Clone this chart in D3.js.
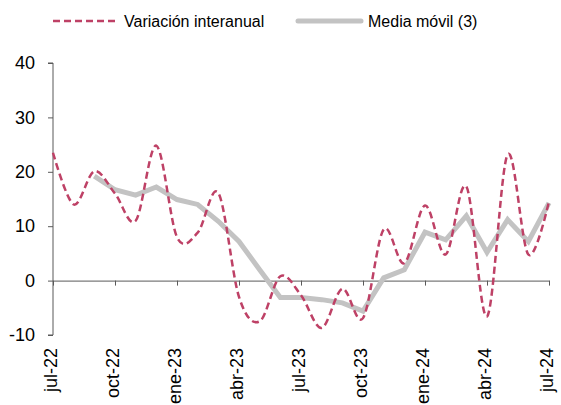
<!DOCTYPE html>
<html>
<head>
<meta charset="utf-8">
<script src="https://cdn.jsdelivr.net/npm/d3@7"></script>
<style>
body { margin: 0; background: #fff; }
text { font-family: "Liberation Sans", Arial, sans-serif; fill: #000; }
</style>
</head>
<body>
<div id="output"></div>
<script>
var w = 561;
var h = 405;

var months = ['jul-22','ago-22','sep-22','oct-22','nov-22','dic-22','ene-23','feb-23','mar-23','abr-23','may-23','jun-23',
	'jul-23','ago-23','sep-23','oct-23','nov-23','dic-23','ene-24','feb-24','mar-24','abr-24','may-24','jun-24','jul-24'];
var tickLabels = ['jul-22','oct-22','ene-23','abr-23','jul-23','oct-23','ene-24','abr-24','jul-24'];
var variacion = [23.5, 14.0, 20.1, 16.0, 11.0, 24.8, 8.0, 8.8, 16.1, -3.0, -7.5, 0.8,
	-2.7, -8.7, -1.5, -6.9, 9.4, 3.2, 13.8, 4.8, 17.3, -6.6, 23.2, 4.8, 14.6];
var media = [null, null, 19.2, 16.7, 15.7, 17.2, 14.9, 14.0, 10.9, 7.2, 2.0, -3.1,
	-3.1, -3.5, -4.1, -5.6, 0.5, 2.0, 8.9, 7.5, 11.9, 5.2, 11.2, 7.2, 14.3];
var yTicks = [-10, 0, 10, 20, 30, 40];

var svg = d3.select('#output').append('svg')
	.attr('width', w)
	.attr('height', h);

var x = d3.scalePoint().domain(months).range([53, 549]);
var y = d3.scaleLinear().domain([-10, 40]).range([335, 63]);

// y axis
var yAxis = svg.append('g')
	.attr('transform', 'translate(53,0)')
	.call(d3.axisLeft(y).tickValues(yTicks).tickSize(5).tickPadding(13).tickFormat(function (d) { return String(d); }));
yAxis.select('.domain').attr('stroke', '#595959').attr('d', 'M-5,' + y(40) + 'H0V' + y(-10) + 'H-5');
yAxis.selectAll('.tick line').attr('stroke', '#595959');
yAxis.selectAll('.tick text').attr('font-size', 18).attr('font-family', '"Liberation Sans", Arial, sans-serif');

// x axis on zero line
var xAxis = svg.append('g')
	.attr('transform', 'translate(0,' + y(0) + ')')
	.call(d3.axisBottom(x).tickValues(tickLabels).tickSize(5).tickSizeOuter(0).tickFormat(''));
xAxis.select('.domain').attr('stroke', '#595959');
xAxis.selectAll('.tick line').attr('stroke', '#595959');

svg.selectAll('text.xlab')
	.data(tickLabels)
	.enter()
	.append('text')
	.attr('class', 'xlab')
	.attr('transform', function (d) { return 'translate(' + (x(d) - 2) + ',348) rotate(-90)'; })
	.attr('text-anchor', 'end')
	.attr('dy', '0.35em')
	.attr('font-size', 18)
	.text(function (d) { return d; });

// lines
var lineVar = d3.line()
	.x(function (d, i) { return x(months[i]); })
	.y(function (d) { return y(d); })
	.curve(d3.curveCardinal.tension(0));

var lineMed = d3.line()
	.defined(function (d) { return d !== null; })
	.x(function (d, i) { return x(months[i]); })
	.y(function (d) { return y(d); });

svg.append('path')
	.attr('d', lineMed(media))
	.attr('fill', 'none')
	.attr('stroke', '#c3c3c3')
	.attr('stroke-width', 5);

svg.append('path')
	.attr('d', lineVar(variacion))
	.attr('fill', 'none')
	.attr('stroke', '#be4166')
	.attr('stroke-width', 2.5)
	.attr('stroke-dasharray', '7,4');

// legend
svg.append('line')
	.attr('x1', 53).attr('x2', 117).attr('y1', 21).attr('y2', 21)
	.attr('stroke', '#be4166').attr('stroke-width', 2.5).attr('stroke-dasharray', '7,4');
svg.append('text').attr('x', 124).attr('y', 27).attr('font-size', 16).text('Variación interanual');

svg.append('line')
	.attr('x1', 298).attr('x2', 361).attr('y1', 21).attr('y2', 21)
	.attr('stroke', '#c3c3c3').attr('stroke-width', 5).attr('stroke-linecap', 'round');
svg.append('text').attr('x', 368).attr('y', 27).attr('font-size', 16).text('Media móvil (3)');
</script>
</body>
</html>
